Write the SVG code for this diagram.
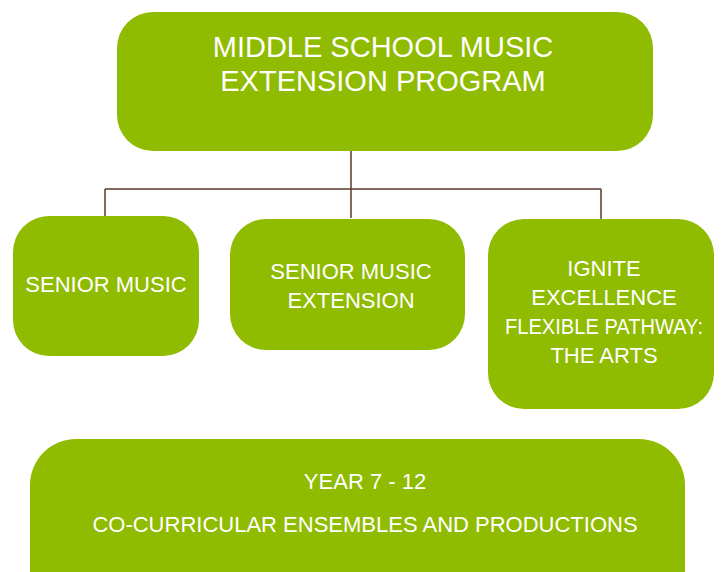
<svg xmlns="http://www.w3.org/2000/svg" width="721" height="572" viewBox="0 0 721 572">
<style>
.box{fill:#8fbb00;}
.t{fill:#ffffff;font-family:"Liberation Sans",Arial,sans-serif;text-anchor:middle;}
.title{font-size:29px;}
.lbl{font-size:22px;}
.conn{stroke:#5b3a2e;stroke-width:1.5;fill:none;}
</style>
<rect width="721" height="572" fill="#ffffff"/>
<g id="connectors">
<path class="conn" d="M351 151 V218 M105 189 H601 M105 189 V216 M601 189 V219"/>
</g>
<g id="node-top">
<rect class="box" x="117" y="12" width="536" height="139" rx="36"/>
<text class="t title" x="383" y="57">MIDDLE SCHOOL MUSIC</text>
<text class="t title" x="383" y="91">EXTENSION PROGRAM</text>
</g>
<g id="node-senior-music">
<rect class="box" x="13" y="216" width="186" height="140" rx="36"/>
<text class="t lbl" x="106" y="292">SENIOR MUSIC</text>
</g>
<g id="node-senior-music-extension">
<rect class="box" x="230" y="219" width="235" height="131" rx="36"/>
<text class="t lbl" x="351" y="279">SENIOR MUSIC</text>
<text class="t lbl" x="351" y="308">EXTENSION</text>
</g>
<g id="node-ignite">
<rect class="box" x="488" y="219" width="226" height="190" rx="36"/>
<text class="t lbl" x="604" y="276">IGNITE</text>
<text class="t lbl" x="604" y="305">EXCELLENCE</text>
<text class="t lbl" x="604" y="334" textLength="198" lengthAdjust="spacingAndGlyphs">FLEXIBLE PATHWAY:</text>
<text class="t lbl" x="604" y="363">THE ARTS</text>
</g>
<g id="node-year">
<rect class="box" x="30" y="439" width="655" height="180" rx="46"/>
<text class="t lbl" x="365" y="489">YEAR 7 - 12</text>
<text class="t lbl" x="365" y="532">CO-CURRICULAR ENSEMBLES AND PRODUCTIONS</text>
</g>
</svg>
